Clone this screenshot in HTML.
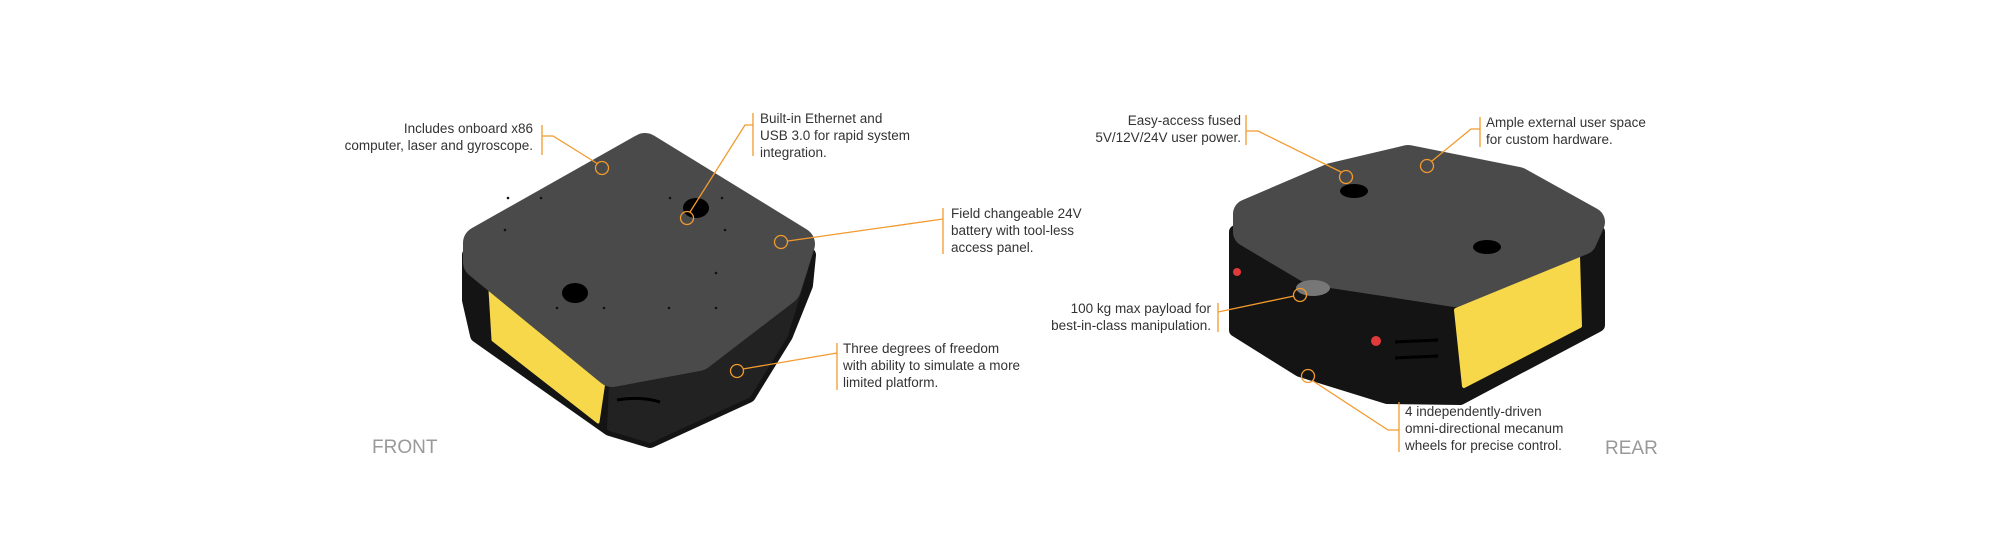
<!DOCTYPE html>
<html><head><meta charset="utf-8"><style>
html,body{margin:0;padding:0;background:#fff;}
svg{display:block;}
text{font-family:"Liberation Sans",sans-serif;font-size:13.5px;fill:#333;}
.lbl{font-size:19px;fill:#999;}
</style></head><body>
<svg width="2000" height="560" viewBox="0 0 2000 560" xmlns="http://www.w3.org/2000/svg">
<!-- FRONT robot -->
<g stroke-linejoin="round">
<path d="M470,255 L808,255 L805,285 L785,335 L748,395 L650,440 L610,428 L478,335 L470,300 Z" fill="#141414" stroke="#141414" stroke-width="16"/>
<path d="M805,270 L785,335 L748,395 L650,440 L610,428 L612,385 L700,365 Z" fill="#222" stroke="#222" stroke-width="6"/>
<path d="M490,290 L605,375 L598,422 L493,340 Z" fill="#f7d84a" stroke="#f7d84a" stroke-width="3"/>
<path d="M645,150 L798,244 L784,288 L698,354 L612,370 L480,262 L480,243 Z" fill="#4a4a4a" stroke="#4a4a4a" stroke-width="34"/>
</g>
<ellipse cx="696" cy="208" rx="13" ry="10" fill="#000"/>
<ellipse cx="575" cy="293" rx="13" ry="10" fill="#000"/>
<g fill="#111">
<circle cx="508" cy="198" r="1.3"/><circle cx="541" cy="198" r="1.3"/><circle cx="670" cy="198" r="1.3"/><circle cx="722" cy="198" r="1.3"/>
<circle cx="505" cy="230" r="1.3"/><circle cx="725" cy="230" r="1.3"/>
<circle cx="557" cy="308" r="1.3"/><circle cx="604" cy="308" r="1.3"/><circle cx="669" cy="308" r="1.3"/><circle cx="716" cy="308" r="1.3"/>
<circle cx="716" cy="273" r="1.3"/>
</g>
<path d="M617,400 Q640,396 660,402" stroke="#000" stroke-width="3" fill="none"/>

<!-- REAR robot -->
<g stroke-linejoin="round">
<path d="M1236,232 L1598,232 L1598,325 L1460,398 L1387,397 L1300,370 L1236,330 Z" fill="#141414" stroke="#141414" stroke-width="14"/>
<path d="M1456,310 L1578,256 L1580,326 L1464,386 Z" fill="#f7d84a" stroke="#f7d84a" stroke-width="4"/>
<path d="M1408,160 L1518,182 L1590,222 L1582,240 L1455,292 L1312,270 L1248,232 L1248,214 L1332,178 Z" fill="#4a4a4a" stroke="#4a4a4a" stroke-width="30"/>
</g>
<ellipse cx="1354" cy="191" rx="14" ry="7" fill="#000"/>
<ellipse cx="1487" cy="247" rx="14" ry="7" fill="#000"/>
<ellipse cx="1313" cy="288" rx="17" ry="8" fill="#777"/>
<circle cx="1237" cy="272" r="4" fill="#e03a3a"/>
<circle cx="1376" cy="341" r="5" fill="#e03a3a"/>
<path d="M1395,342 L1438,340 M1395,358 L1438,356" stroke="#000" stroke-width="3"/>

<!-- callouts -->
<g stroke="#f29a2e" stroke-width="1.3" fill="none">
<path d="M542,125 V155 M542,136 H553 L598,164"/><circle cx="602" cy="168" r="6.5"/>
<path d="M753,113 V156 M753,125 H745 L690,212"/><circle cx="687" cy="218" r="6.5"/>
<path d="M943,208 V254 M943,219 L788,241"/><circle cx="781" cy="242" r="6.5"/>
<path d="M837,343 V390 M837,353 L743,369"/><circle cx="737" cy="371" r="6.5"/>
<path d="M1246,115 V145 M1246,131 H1258 L1341,172"/><circle cx="1346" cy="177" r="6.5"/>
<path d="M1480,117 V147 M1480,129 H1471 L1432,161"/><circle cx="1427" cy="166" r="6.5"/>
<path d="M1218,303 V332 M1218,312 L1294,296"/><circle cx="1300" cy="295" r="6.5"/>
<path d="M1399,402 V452 M1399,430 H1388 L1313,381"/><circle cx="1308" cy="376" r="6.5"/>
</g>

<g>
<text x="533" y="133" text-anchor="end">Includes onboard x86</text>
<text x="533" y="150" text-anchor="end">computer, laser and gyroscope.</text>
<text x="760" y="123">Built-in Ethernet and</text>
<text x="760" y="140">USB 3.0 for rapid system</text>
<text x="760" y="157">integration.</text>
<text x="951" y="218">Field changeable 24V</text>
<text x="951" y="235">battery with tool-less</text>
<text x="951" y="252">access panel.</text>
<text x="843" y="353">Three degrees of freedom</text>
<text x="843" y="370">with ability to simulate a more</text>
<text x="843" y="387">limited platform.</text>
<text x="1241" y="125" text-anchor="end">Easy-access fused</text>
<text x="1241" y="142" text-anchor="end">5V/12V/24V user power.</text>
<text x="1486" y="127">Ample external user space</text>
<text x="1486" y="144">for custom hardware.</text>
<text x="1211" y="313" text-anchor="end">100 kg max payload for</text>
<text x="1211" y="330" text-anchor="end">best-in-class manipulation.</text>
<text x="1405" y="416">4 independently-driven</text>
<text x="1405" y="433">omni-directional mecanum</text>
<text x="1405" y="450">wheels for precise control.</text>
<text class="lbl" x="372" y="453">FRONT</text>
<text class="lbl" x="1605" y="454">REAR</text>
</g>
</svg>
</body></html>
